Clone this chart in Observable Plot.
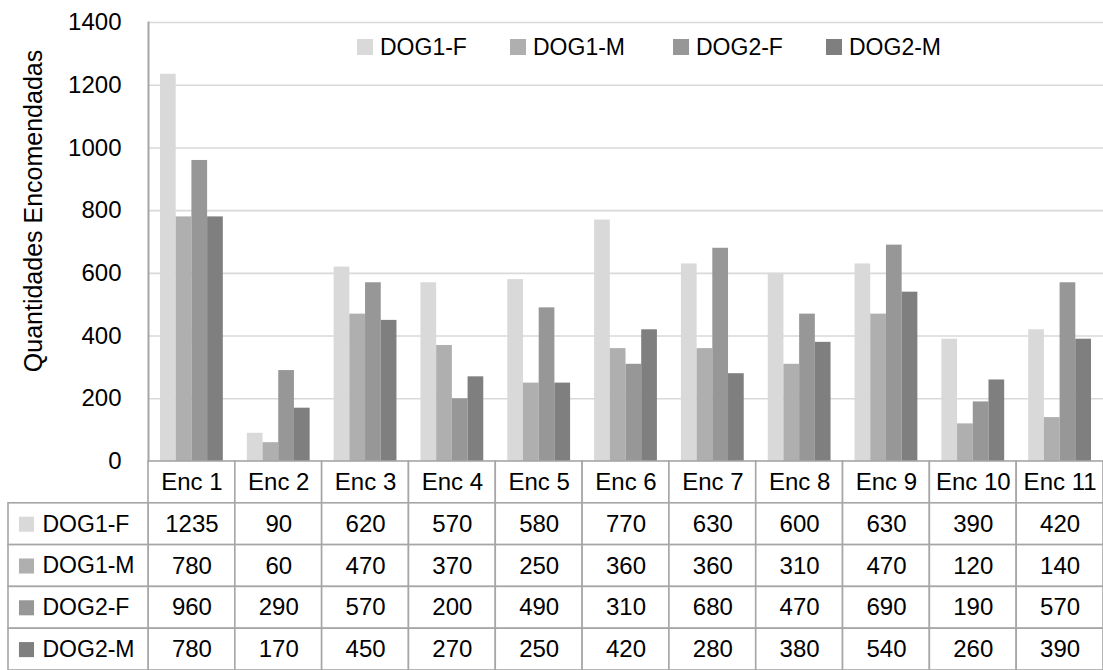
<!DOCTYPE html>
<html>
<head>
<meta charset="utf-8">
<script src="https://cdn.jsdelivr.net/npm/d3@7"></script>
<script src="https://cdn.jsdelivr.net/npm/@observablehq/plot@0.6"></script>
<style>
  html, body { margin: 0; padding: 0; background: #fff; }
  body { width: 1103px; height: 670px; position: relative; overflow: hidden; font-family: "Liberation Sans", Arial, sans-serif; }
  svg { display: block; }
  #legend { position: absolute; top: 30px; left: 0; width: 1103px; height: 34px; }
  .item { position: absolute; top: 0; display: flex; align-items: center; font-size: 23px; line-height: 34px; color: #000; }
  .sw { width: 16px; height: 16px; margin-right: 7px; }
</style>
</head>
<body>
<div id="chart"></div>
<div id="legend"></div>
<div id="table"></div>
<script>
const encs = ["Enc 1","Enc 2","Enc 3","Enc 4","Enc 5","Enc 6","Enc 7","Enc 8","Enc 9","Enc 10","Enc 11"];
const series = ["DOG1-F","DOG1-M","DOG2-F","DOG2-M"];
const dog1F = [1235, 90, 620, 570, 580, 770, 630, 600, 630, 390, 420];
const dog1M = [780, 60, 470, 370, 250, 360, 360, 310, 470, 120, 140];
const dog2F = [960, 290, 570, 200, 490, 310, 680, 470, 690, 190, 570];
const dog2M = [780, 170, 450, 270, 250, 420, 280, 380, 540, 260, 390];
const colors = ["#d9d9d9", "#afafaf", "#979797", "#7f7f7f"];
const yTicks = [0, 200, 400, 600, 800, 1000, 1200, 1400];
const yLabel = "Quantidades Encomendadas";

const seriesValues = [dog1F, dog1M, dog2F, dog2M];
const rows = [];
series.forEach((s, i) => encs.forEach((e, j) => rows.push({enc: e, series: s, value: seriesValues[i][j]})));

const W = 1103, ML = 148, chartH = 461, tableH = 209;
const colBand = (W - ML) / encs.length;
const groupPad = 12;
const barW = (colBand - 2 * groupPad) / series.length;
const font = "'Liberation Sans', Arial, sans-serif";

const barMarks = series.map((s, i) => Plot.barY(rows.filter(d => d.series === s), {
  x: "enc", y: "value", fill: "series",
  insetLeft: groupPad + i * barW,
  insetRight: colBand - groupPad - (i + 1) * barW
}));

const chart = Plot.plot({
  width: W, height: chartH,
  marginLeft: ML, marginRight: 0, marginTop: 22, marginBottom: 0,
  style: {fontFamily: font, fontSize: "24px", color: "#000", background: "#fff", overflow: "visible"},
  x: {domain: encs, padding: 0, round: false, axis: null},
  y: {domain: [0, 1400], axis: null},
  color: {domain: series, range: colors},
  marks: [
    Plot.ruleY(yTicks, {stroke: "#d9d9d9", strokeWidth: 1.6}),
    ...barMarks,
    Plot.axisY(yTicks, {tickSize: 0, tickPadding: 27, fontSize: 24, label: null, tickFormat: d => String(d)}),
    Plot.frame({anchor: "left", stroke: "#a6a6a6", strokeWidth: 2}),
    Plot.text([yLabel], {frameAnchor: "left", dx: -115, dy: -31, rotate: -90, textAnchor: "middle", text: d => d, fontSize: 25})
  ]
});
document.getElementById("chart").appendChild(chart);

const legend = document.getElementById("legend");
const legendX = [357, 510, 673, 826];
series.forEach((s, i) => {
  const it = document.createElement("div");
  it.className = "item";
  it.style.left = legendX[i] + "px";
  it.innerHTML = `<div class="sw" style="background:${colors[i]}"></div><span>${s}</span>`;
  legend.appendChild(it);
});

const hdr = "hdr";
const cells = encs.map(e => ({enc: e, row: hdr, text: e}))
  .concat(rows.map(d => ({enc: d.enc, row: d.series, text: String(d.value)})));

const table = Plot.plot({
  width: W, height: tableH,
  marginLeft: ML, marginRight: 0, marginTop: 0, marginBottom: 0,
  style: {fontFamily: font, fontSize: "24px", color: "#000", background: "#fff", overflow: "visible"},
  x: {domain: encs, padding: 0, round: false, axis: null},
  y: {domain: [hdr, ...series], padding: 0, round: false, axis: null},
  color: {domain: series, range: colors},
  marks: [
    Plot.cell(cells, {x: "enc", y: "row", fill: "#fff", stroke: "#a6a6a6", strokeWidth: 1.6}),
    Plot.cell(series, {x: () => encs[0], y: d => d, fill: "#fff", stroke: "#a6a6a6", strokeWidth: 1.6,
      insetLeft: -(ML - 8), insetRight: colBand}),
    Plot.text(cells, {x: "enc", y: "row", text: "text", fontSize: 24}),
    Plot.dot(series, {y: d => d, frameAnchor: "left", dx: -122, symbol: "square", r: 8.5, fill: d => d, stroke: null}),
    Plot.text(series, {y: d => d, frameAnchor: "left", dx: -106, textAnchor: "start", text: d => d, fontSize: 23})
  ]
});
document.getElementById("table").appendChild(table);
</script>
</body>
</html>
